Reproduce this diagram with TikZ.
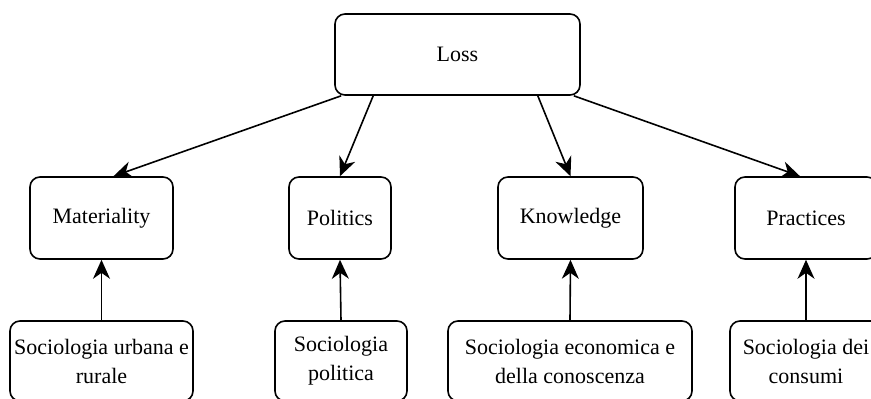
\documentclass[tikz,border=0pt]{standalone}
\usepackage{fontspec}
\setmainfont{Liberation Serif}
\usepackage{tikz}
\usetikzlibrary{arrows.meta}
\usetikzlibrary{calc}

\begin{document}
\begin{tikzpicture}[x=1pt,y=-1pt,
		box/.style={draw, line width=1.6pt, rounded corners=10pt, align=center,
			inner sep=0pt, font=\fontsize{22}{29}\selectfont},
		link/.style={line width=1.6pt, -{Stealth[length=19pt,width=17pt,inset=6pt]}}]
		\clip (0,0) rectangle (871,399);
		% top
		\node[box, minimum width=245pt, minimum height=81pt] (loss) at (457.5,54.5) {Loss};
		% themes
		\node[box, minimum width=143pt, minimum height=82pt] (mat) at (101.5,218) {Materiality};
		\node[box, minimum width=102pt, minimum height=82pt] (pol) at (340,218) {Politics};
		\node[box, minimum width=145pt, minimum height=82pt] (know) at (570.5,218) {Knowledge};
		\node[box, minimum width=142pt, minimum height=82pt] (prac) at (806,218) {Practices};
		% fields
		\node[box, minimum width=183pt, minimum height=80pt] (urb) at (101.5,361) {Sociologia urbana e\\rurale};
		\node[box, minimum width=132pt, minimum height=80pt] (spol) at (341,361) {Sociologia\\politica};
		\node[box, minimum width=244pt, minimum height=80pt] (seco) at (570,361) {Sociologia economica e\\della conoscenza};
		\node[box, minimum width=152pt, minimum height=80pt] (scon) at (806,361) {Sociologia dei\\consumi};
		% links
		\draw[link] ([xshift=7pt]loss.south west) -- ([xshift=12pt]mat.north);
		\draw[link] ([xshift=39pt]loss.south west) -- (pol.north);
		\draw[link] ([xshift=-43pt]loss.south east) -- (know.north);
		\draw[link] ([xshift=-7pt]loss.south east) -- ([xshift=-6pt]prac.north);
		\draw[link] (urb.north) -- (mat.south);
		\draw[link] (spol.north) -- (pol.south);
		\draw[link] (seco.north) -- (know.south);
		\draw[link] (scon.north) -- (prac.south);
	\end{tikzpicture}
\end{document}
